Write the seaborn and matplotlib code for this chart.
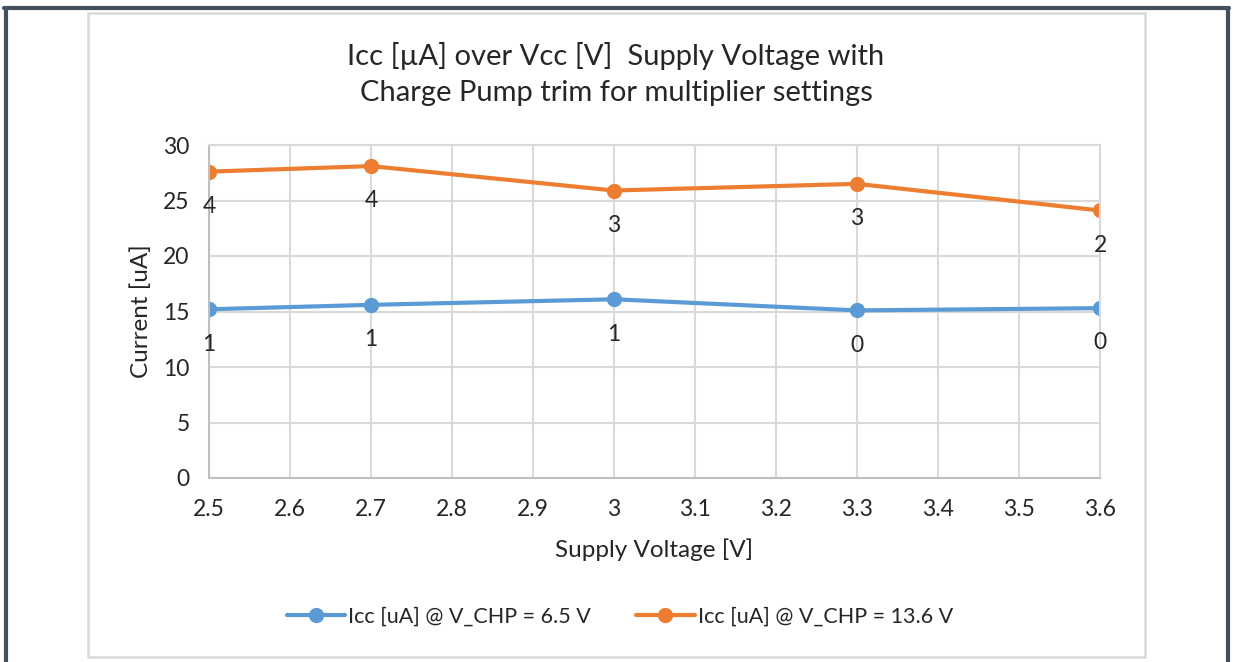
import numpy as np
import pandas as pd
import matplotlib
matplotlib.use('Agg')
import matplotlib.pyplot as plt
import seaborn as sns
from matplotlib.lines import Line2D
from matplotlib.patches import Rectangle

# data
voltage = [2.5, 2.7, 3.0, 3.3, 3.6]
icc_low = [15.2, 15.6, 16.1, 15.1, 15.3]
icc_high = [27.6, 28.1, 25.9, 26.5, 24.1]
trim_low = ['1', '1', '1', '0', '0']
trim_high = ['4', '4', '3', '3', '2']
series_names = ['Icc [uA] @ V_CHP = 6.5 V', 'Icc [uA] @ V_CHP = 13.6 V']
x_ticks = [2.5, 2.6, 2.7, 2.8, 2.9, 3.0, 3.1, 3.2, 3.3, 3.4, 3.5, 3.6]
x_labels = ['2.5', '2.6', '2.7', '2.8', '2.9', '3', '3.1', '3.2', '3.3', '3.4', '3.5', '3.6']
y_ticks = [0, 5, 10, 15, 20, 25, 30]

df = pd.DataFrame({
    'voltage': voltage * 2,
    'current': icc_low + icc_high,
    'series': [series_names[0]] * 5 + [series_names[1]] * 5,
})

sns.set_style('white')
plt.rcParams['font.family'] = ['Lato', 'DejaVu Sans']
txt = '#262626'
blue = '#5B9BD5'
orange = '#ED7D31'
fs = 16.5

fig = plt.figure(figsize=(12.35, 6.62), dpi=100)
ax = fig.add_axes([209 / 1235, 1 - 478 / 662, 891 / 1235, 333 / 662])

sns.lineplot(data=df, x='voltage', y='current', hue='series',
             palette=[blue, orange], marker='o', markersize=11,
             markeredgewidth=0, linewidth=3, ax=ax, legend=False)

# data labels (trim setting) under each point
for xs, ys, labs in [(voltage, icc_low, trim_low), (voltage, icc_high, trim_high)]:
    for x, y, s in zip(xs, ys, labs):
        ax.annotate(s, (x, y), xytext=(0, -25), textcoords='offset points',
                    ha='center', va='center', fontsize=fs, color=txt)

ax.set_xlim(2.5, 3.6)
ax.set_ylim(0, 30)
ax.set_xticks(x_ticks)
ax.set_xticklabels(x_labels)
ax.set_yticks(y_ticks)
ax.grid(True, color='#D9D9D9', linewidth=1.5)
ax.tick_params(length=0, labelsize=fs, labelcolor=txt)
ax.tick_params(axis='y', pad=14)
ax.tick_params(axis='x', pad=15)
for side in ['top', 'right']:
    ax.spines[side].set_color('#D9D9D9')
    ax.spines[side].set_linewidth(1.5)
for side in ['left', 'bottom']:
    ax.spines[side].set_color('#BFBFBF')
    ax.spines[side].set_linewidth(1.5)

ax.set_xlabel('Supply Voltage [V]', fontsize=17.5, color=txt, labelpad=13)
ax.set_ylabel('Current [uA]', fontsize=17.5, color=txt, labelpad=8)

fig.text(616 / 1235, 1 - 74 / 662,
         'Icc [µA] over Vcc [V]  Supply Voltage with\nCharge Pump trim for multiplier settings',
         ha='center', va='center', fontsize=21, color=txt, linespacing=1.5)

handles = [Line2D([], [], color=blue, marker='o', markersize=11, linewidth=3, markeredgewidth=0),
           Line2D([], [], color=orange, marker='o', markersize=11, linewidth=3, markeredgewidth=0)]
fig.legend(handles, series_names, loc='center', bbox_to_anchor=(620 / 1235, 1 - 617 / 662),
           ncol=2, frameon=False, fontsize=15.5, handlelength=2.7, handletextpad=0.15,
           columnspacing=2.1, labelcolor=txt)

# chart area border and outer frame
fig.add_artist(Rectangle((88 / 1235, 1 - 657 / 662), 1057 / 1235, 644 / 662,
                         transform=fig.transFigure, fill=False,
                         edgecolor='#D9D9D9', linewidth=1.8))
dark = '#44515C'
fig.add_artist(Line2D([5.5 / 1235, 5.5 / 1235], [0, 1 - 7.5 / 662], transform=fig.transFigure,
                      color=dark, linewidth=3))
fig.add_artist(Line2D([1227.5 / 1235, 1227.5 / 1235], [0, 1 - 7.5 / 662], transform=fig.transFigure,
                      color=dark, linewidth=3))
fig.add_artist(Line2D([4 / 1235, 1229 / 1235], [1 - 7.5 / 662, 1 - 7.5 / 662], transform=fig.transFigure,
                      color=dark, linewidth=3))

fig.savefig('out.png', dpi=100)
